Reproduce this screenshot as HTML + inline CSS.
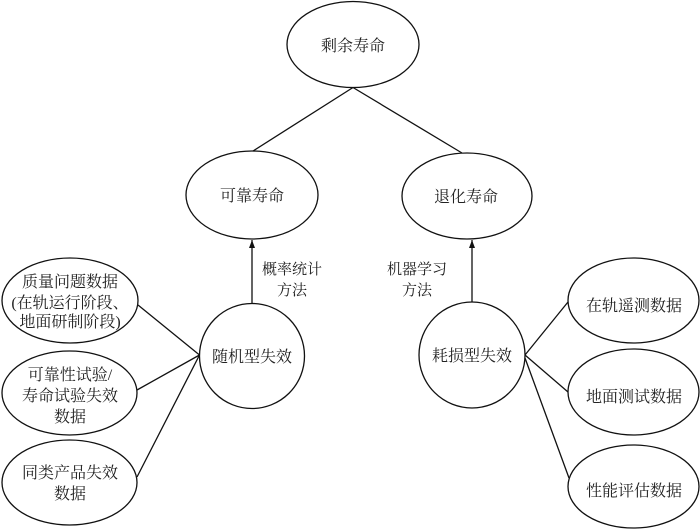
<!DOCTYPE html>
<html><head><meta charset="utf-8"><style>
html,body{margin:0;padding:0;background:#fff;}
svg{display:block;}
text{font-family:"Liberation Serif","Noto Serif CJK SC",serif;fill:#222;text-anchor:middle;}
</style></head><body>
<svg width="700" height="529" viewBox="0 0 700 529" xmlns="http://www.w3.org/2000/svg">
<defs>
<marker id="ah" markerWidth="10" markerHeight="10" refX="8" refY="3" orient="auto" markerUnits="userSpaceOnUse">
<path d="M0,0 L8,3 L0,6 Z" fill="#111"/>
</marker>
</defs>
<g fill="none" stroke="#111" stroke-width="1.3">
<ellipse cx="353" cy="44.5" rx="66" ry="43"/>
<ellipse cx="252" cy="195" rx="66" ry="44"/>
<ellipse cx="467" cy="196" rx="65" ry="43"/>
<circle cx="252" cy="356" r="52.5"/>
<circle cx="472" cy="355" r="53"/>
<ellipse cx="70" cy="300.5" rx="68" ry="42.5"/>
<ellipse cx="69.5" cy="393" rx="67.5" ry="42"/>
<ellipse cx="69.5" cy="482.5" rx="67.5" ry="42.5"/>
<ellipse cx="633.5" cy="300.5" rx="65.5" ry="42.5"/>
<ellipse cx="633.5" cy="392" rx="65.5" ry="43"/>
<ellipse cx="633.5" cy="486.5" rx="65.5" ry="41.5"/>
<line x1="353" y1="87.5" x2="253" y2="151"/>
<line x1="353" y1="87.5" x2="462" y2="153"/>
<line x1="252" y1="303.5" x2="252" y2="240" marker-end="url(#ah)"/>
<line x1="472" y1="302" x2="472" y2="240" marker-end="url(#ah)"/>
<line x1="199.5" y1="355" x2="138" y2="305"/>
<line x1="199.5" y1="355" x2="137" y2="390"/>
<line x1="199.5" y1="355" x2="137" y2="477"/>
<line x1="525" y1="355" x2="568" y2="302"/>
<line x1="525" y1="355" x2="568" y2="392"/>
<line x1="525" y1="358" x2="569" y2="478"/>
</g>
<g font-size="16">
<text x="353" y="51">剩余寿命</text>
<text x="252" y="201">可靠寿命</text>
<text x="466" y="202">退化寿命</text>
<text x="252" y="362">随机型失效</text>
<text x="472" y="361">耗损型失效</text>
<text x="70" y="287">质量问题数据</text>
<text x="70" y="308">(在轨运行阶段、</text>
<text x="70" y="327">地面研制阶段)</text>
<text x="70" y="380">可靠性试验/</text>
<text x="70" y="401">寿命试验失效</text>
<text x="70" y="422">数据</text>
<text x="70" y="478">同类产品失效</text>
<text x="70" y="499">数据</text>
<text x="634" y="311">在轨遥测数据</text>
<text x="634" y="402">地面测试数据</text>
<text x="634" y="496">性能评估数据</text>
</g>
<g font-size="15">
<text x="292" y="274">概率统计</text>
<text x="292" y="295">方法</text>
<text x="417" y="274">机器学习</text>
<text x="417" y="295">方法</text>
</g>
</svg>
</body></html>
